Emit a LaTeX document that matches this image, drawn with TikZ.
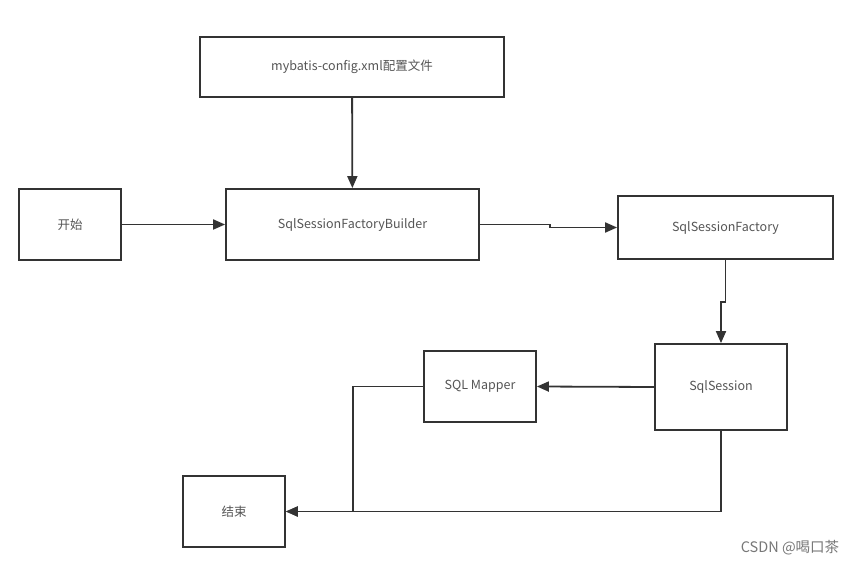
\documentclass[tikz,border=0pt]{standalone}
\usepackage{fontspec}
\setmainfont{Noto Sans CJK SC}
\usetikzlibrary{arrows.meta}
\definecolor{linegray}{HTML}{333333}
\definecolor{textgray}{HTML}{555555}

\begin{document}
\begin{tikzpicture}[x=1pt, y=-1pt, line width=1.8pt,
                    >={Triangle[length=12pt,width=10pt]},
                    box node/.style={rectangle,draw=linegray,fill=white,text=textgray,
                                     inner sep=0pt,font=\fontsize{12.5}{14}\selectfont}]

  \useasboundingbox (0,0) rectangle (855,564);

  \node[box node, minimum width=304, minimum height=60] (config) at (352,67) {mybatis-config.xml配置文件};
  \node[box node, minimum width=102, minimum height=71] (start) at (70,224.5) {开始};
  \node[box node, minimum width=253, minimum height=71] (builder) at (352.5,224.5) {SqlSessionFactoryBuilder};
  \node[box node, minimum width=215, minimum height=63] (factory) at (725.5,227.5) {SqlSessionFactory};
  \node[box node, minimum width=132, minimum height=86] (session) at (721,387) {SqlSession};
  \node[box node, minimum width=112, minimum height=71] (mapper) at (480,386.5) {SQL Mapper};
  \node[box node, minimum width=102, minimum height=71] (end) at (234,511.5) {结束};

  \draw[->, draw=linegray] (config) -- (builder);
  \draw[->, draw=linegray] (start) -- (builder);
  \draw[->, draw=linegray] (builder.east) -- ++(70,0) |- (factory.west);
  \draw[->, draw=linegray] (factory.south) -- ++(0,42) -| (session.north);
  \draw[->, draw=linegray] (session.west) -- (mapper.east);
  \draw[->, draw=linegray] (mapper.west) -- ++(-70,0) |- (end.east);
  \draw[->, draw=linegray] (session.south) |- (end.east);

  \node[text=textgray!80, font=\fontsize{14.5}{16}\selectfont] (mark) at (790,548) {CSDN @喝口茶};
\end{tikzpicture}
\end{document}
